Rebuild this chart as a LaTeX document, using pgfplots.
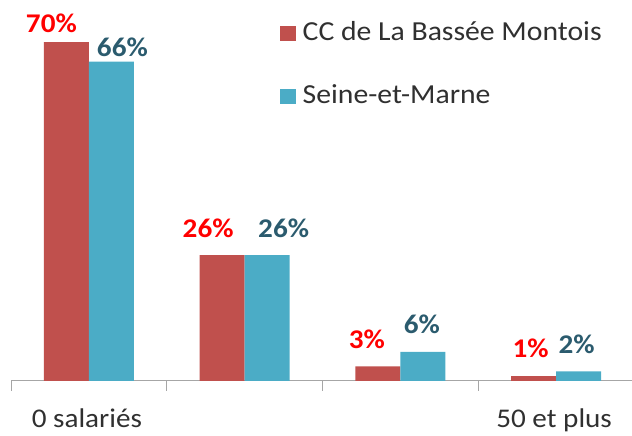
\documentclass[border=0pt]{standalone}
\usepackage{pgfplots}
\pgfplotsset{compat=1.18}
\usepackage{fontspec}
\setmainfont{Carlito}[FakeStretch=1.08]
\definecolor{barred}{HTML}{C0504D}
\definecolor{barblue}{HTML}{4BACC6}
\definecolor{labred}{HTML}{FF0000}
\definecolor{labblue}{HTML}{2B5B6E}
\definecolor{axgray}{HTML}{A6A6A6}
\definecolor{txt}{HTML}{303030}
\begin{document}
\begin{tikzpicture}
\begin{axis}[
  at={(11pt,55pt)}, anchor=south west,
  scale only axis,
  width=623pt, height=363pt,
  ymin=0, ymax=75,
  xmin=-0.5, xmax=3.5,
  axis y line=none,
  axis x line*=bottom,
  x axis line style={draw=axgray, line width=1pt, -},
  ybar=0pt, bar width=45pt,
  xtick={0,1,2,3},
  xticklabels={0 salariés,,,50 et plus},
  major tick length=0pt,
  minor xtick={-0.5,0.5,1.5,2.5,3.5},
  minor tick length=10pt,
  tick align=outside,
  minor tick style={draw=axgray, line width=1pt},
  xticklabel style={font=\fontsize{27pt}{32pt}\selectfont, text=txt, anchor=base, inner sep=0pt, yshift=-47pt, xshift=-2pt},
  nodes near coords={\pgfmathprintnumber{\pgfplotspointmeta}\%},
  /pgf/number format/assume math mode=true,
  visualization depends on={\thisrow{dx} \as \dx},
  visualization depends on={\thisrow{dy} \as \dy},
  every node near coord/.append style={font=\fontsize{27pt}{32pt}\selectfont\bfseries, anchor=base, inner sep=0pt, xshift=\dx pt, yshift=\dy pt},
  legend style={at={(0.431,0.993)}, anchor=north west, draw=none, fill=none,
    font=\fontsize{27.5pt}{33pt}\selectfont, text=txt,
    row sep=37pt, inner sep=0pt,
    nodes={text height=20pt, text depth=6pt, inner sep=0pt},
    /tikz/every odd column/.append style={column sep=7pt},
    legend cell align=left},
  legend image code/.code={\fill[#1] (0pt,-7.5pt) rectangle (16pt,7.5pt);},
]
\addplot[fill=barred, draw=none, every node near coord/.append style={text=labred}]
  table {
x y  dx   dy
0 70 -15  10
1 26 -14  18
2 3  -11  18
3 1  -3   19
};
\addplot[fill=barblue, draw=none, every node near coord/.append style={text=labblue}]
  table {
x y  dx   dy
0 66 11   5
1 26 16.5 18
2 6  -1   18
3 2  -2   18
};
\legend{CC de La Bassée Montois, Seine-et-Marne}
\end{axis}
\pgfresetboundingbox
\path[use as bounding box] (0,0) rectangle (632pt,436pt);
\end{tikzpicture}
\end{document}
